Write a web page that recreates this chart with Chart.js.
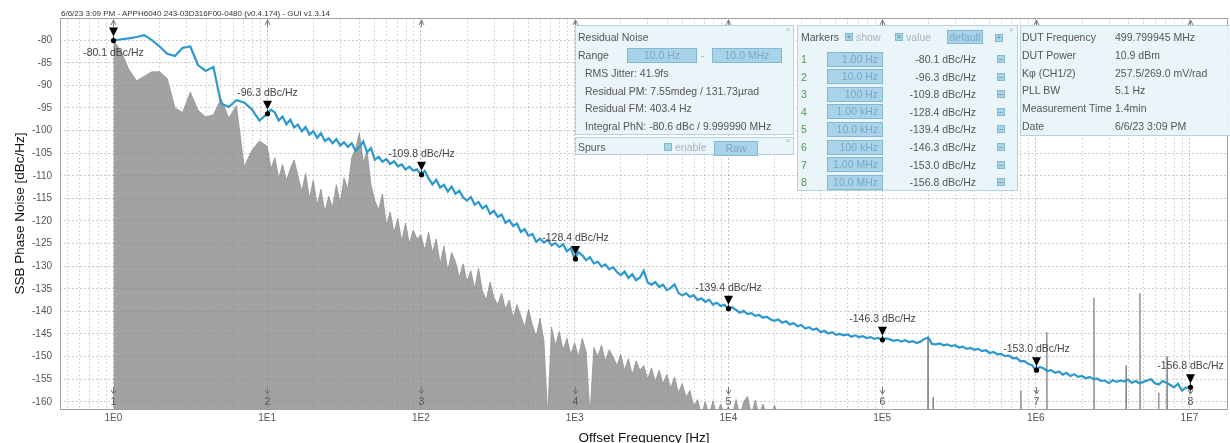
<!DOCTYPE html>
<html>
<head>
<meta charset="utf-8">
<script src="https://cdn.jsdelivr.net/npm/chart.js@4.4.1/dist/chart.umd.min.js"></script>
<style>
    body { margin: 0; background: #fff; font-family: "Liberation Sans", Arial, sans-serif; overflow: hidden; }
    #wrap { position: relative; width: 1230px; height: 443px; overflow: hidden; }
    #chart { position: absolute; left: 0; top: 0; }
    .panel { position: absolute; background: rgba(233, 244, 250, 0.94); border: 1px solid #b7d3e1; box-sizing: border-box; }
    .t { position: absolute; font-size: 10.5px; line-height: 14px; color: #555; white-space: nowrap; }
    .dim { color: #a9b4ba; }
    .num { color: #4c9a4c; }
    .box { position: absolute; background: #a9d3e8; border: 1px solid #86b7d0; box-sizing: border-box; color: #79a9c6;
        font-size: 10.5px; white-space: nowrap; }
    .chk { position: absolute; width: 8px; height: 8px; background: #a9d3e8; border: 1px solid #86b7d0; box-sizing: border-box;
        font-size: 7px; line-height: 6px; text-align: center; color: #4f7f99; }
    .x { position: absolute; font-size: 8px; color: #b5b5b5; }
    #header { position: absolute; left: 61px; top: 9px; font-size: 8px; color: #333; white-space: nowrap; }
</style>
</head>
<body>
<div id="wrap">
    <canvas id="chart" width="1230" height="443"></canvas>
    <div id="header">6/6/23 3:09 PM - APPH6040 243-03D316F00-0480 (v0.4.174) - GUI v1.3.14</div>
</div>
<script>
// axis ranges
const X_MIN = 0.449;
const X_MAX = 1.78e7;
const Y_MIN = -161.6;
const Y_MAX = -75.1;
const Y_TICKS = [-80, -85, -90, -95, -100, -105, -110, -115, -120, -125, -130, -135, -140, -145, -150, -155, -160];
const FLOOR = -163;

// log spacing inside one decade
const MANT20 = [1.0, 1.122, 1.259, 1.413, 1.585, 1.778, 1.995, 2.239, 2.512, 2.818,
    3.162, 3.548, 3.981, 4.467, 5.012, 5.623, 6.310, 7.079, 7.943, 8.913];
const MANT40 = [1.000, 1.059, 1.122, 1.189, 1.259, 1.334, 1.413, 1.496, 1.585, 1.679,
    1.778, 1.884, 1.995, 2.113, 2.239, 2.371, 2.512, 2.661, 2.818, 2.985,
    3.162, 3.350, 3.548, 3.758, 3.981, 4.217, 4.467, 4.732, 5.012, 5.309,
    5.623, 5.957, 6.310, 6.683, 7.079, 7.499, 7.943, 8.414, 8.913, 9.441];

// SSB phase noise trace (blue); 1 Hz decade on MANT20, the rest on MANT40
const BLUE_1HZ = [-80.1, -79.8, -79.6, -79.3, -78.9, -80.0, -81.4, -83.0, -83.5, -81.7,
    -81.4, -85.5, -86.8, -85.9, -94.0, -94.8, -93.3, -93.8, -95.3, -97.8];
const BLUE_10HZ = [-96.3, -95.4, -96.0, -97.8, -96.9, -98.6, -97.6, -99.3, -98.7, -100.2,
    -99.2, -100.9, -100.1, -101.6, -100.6, -102.3, -101.7, -102.8, -101.9, -103.3,
    -102.6, -103.6, -102.8, -104.5, -103.7, -102.4, -104.8, -103.9, -106.5, -105.8,
    -106.9, -106.3, -107.4, -106.8, -107.9, -107.5, -108.6, -108.0, -108.9, -108.6];
const BLUE_100HZ = [-109.8, -108.9, -110.6, -111.9, -110.9, -112.6, -112.0, -113.5, -112.4, -114.0,
    -113.3, -114.8, -115.5, -114.7, -116.4, -115.8, -117.2, -116.6, -118.4, -117.7,
    -119.1, -118.6, -120.4, -119.8, -121.1, -120.6, -122.4, -121.8, -123.3, -122.9,
    -124.6, -123.9, -124.8, -124.2, -125.4, -124.9, -125.8, -125.2, -126.7, -126.0];
const BLUE_1KHZ = [-128.4, -126.9, -127.6, -128.7, -128.0, -129.4, -129.0, -130.1, -129.6, -130.7,
    -130.2, -131.3, -132.0, -131.2, -132.6, -131.8, -133.1, -132.5, -131.0, -133.6,
    -134.1, -133.5, -134.6, -134.1, -135.3, -134.8, -134.0, -135.9, -136.5, -136.0,
    -136.8, -136.4, -137.5, -137.1, -137.9, -137.4, -138.5, -138.1, -138.8, -138.6];
const BLUE_10KHZ = [-139.4, -139.1, -139.7, -140.3, -139.9, -140.6, -140.4, -141.0, -140.8, -141.4,
    -141.2, -141.8, -142.1, -141.8, -142.5, -142.2, -142.9, -142.6, -143.3, -143.0,
    -143.8, -143.5, -144.1, -143.8, -144.6, -144.3, -144.9, -144.6, -145.2, -145.0,
    -145.3, -145.1, -145.6, -145.3, -145.7, -145.5, -145.9, -145.7, -146.1, -145.9];
const BLUE_100KHZ = [-146.3, -146.0, -146.2, -146.5, -146.3, -146.7, -146.4, -146.8, -146.6, -147.0,
    -146.7, -146.1, -145.8, -147.2, -147.3, -147.1, -147.5, -147.3, -147.7, -147.5,
    -148.0, -147.8, -148.3, -148.1, -148.5, -148.3, -148.8, -148.6, -149.2, -149.0,
    -149.5, -149.4, -149.9, -149.8, -150.4, -150.3, -151.0, -151.0, -151.6, -151.9];
const BLUE_1MHZ = [-153.0, -152.3, -152.6, -153.2, -153.0, -153.6, -153.3, -154.0, -153.6, -154.3,
    -153.9, -154.5, -154.3, -154.8, -154.5, -155.0, -154.9, -155.4, -155.3, -155.9,
    -155.2, -155.6, -155.3, -155.5, -155.1, -155.8, -155.4, -155.9, -155.6, -155.3,
    -155.0, -155.9, -156.2, -155.4, -155.8, -156.3, -156.8, -156.0, -157.5, -156.9];
const BLUE_END = -156.8; // at 10 MHz

// gray noise trace
const GRAY_1HZ = [-80.0, -82.5, -86.5, -89.0, -88.0, -87.0, -87.0, -88.5, -95.0, -96.0,
    -91.5, -95.5, -97.0, -96.5, -93.0, -97.2, -94.5, -108.0, -104.4, -102.3];
const GRAY_10HZ = [-103.5, -108.5, -106.0, -110.5, -107.5, -111.0, -108.5, -106.5, -110.0, -113.5,
    -109.5, -115.0, -111.0, -116.5, -113.0, -118.0, -114.5, -117.0, -112.0, -116.0,
    -110.5, -113.0, -106.0, -104.0, -100.5, -107.0, -104.5, -112.0, -115.5, -117.5,
    -114.0, -121.0, -118.0, -122.5, -119.5, -124.5, -120.5, -125.0, -122.0, -124.0];
const GRAY_100HZ = [-123.0, -126.5, -122.5, -127.0, -124.0, -129.5, -125.5, -131.0, -127.0, -129.0,
    -132.5, -129.5, -133.5, -131.0, -135.0, -130.5, -135.5, -137.5, -133.5, -137.0,
    -138.5, -136.0, -139.5, -137.5, -141.5, -138.5, -141.0, -143.5, -139.5, -143.0,
    -145.5, -141.5, -146.5, -163.0, -143.5, -147.5, -144.5, -148.5, -146.0, -149.5];
const GRAY_1KHZ = [-147.0, -150.0, -146.0, -149.0, -163.0, -148.0, -150.0, -147.5, -151.0, -148.5,
    -150.0, -152.0, -149.5, -153.0, -150.5, -154.0, -151.0, -153.0, -152.0, -155.0,
    -152.5, -155.5, -153.0, -156.0, -154.0, -157.0, -154.5, -158.0, -156.0, -159.0,
    -157.5, -161.0, -159.5, -163.0, -160.0, -163.0, -159.8, -163.0, -160.5, -163.0];
const GRAY_10KHZ = [-161.0, -163.0, -159.5, -163.0, -160.0, -158.8, -163.0, -159.6, -163.0, -160.5,
    -163.0, -163.0, -160.8, -163.0, -163.0];

// discrete spurs
const SPUR_FREQ = [1.99e5, 2.15e5, 8.0e5, 1.18e6, 2.39e6, 3.87e6, 4.76e6, 6.3e6, 7.15e6];
const SPUR_DB = [-145.6, -159.0, -157.5, -144.6, -137.0, -152.0, -136.0, -158.0, -150.0];

// markers
const MARKER_FREQ = [1, 10, 100, 1e3, 1e4, 1e5, 1e6, 1e7];
const MARKER_DB = [-80.1, -96.3, -109.8, -128.4, -139.4, -146.3, -153.0, -156.8];
const MARKER_NAMES = ["1.00 Hz", "10.0 Hz", "100 Hz", "1.00 kHz", "10.0 kHz", "100 kHz", "1.00 MHz", "10.0 MHz"];

const DUT_LABELS = ["DUT Frequency", "DUT Power", "K\u03c6 (CH1/2)", "PLL BW", "Measurement Time", "Date"];
const DUT_VALUES = ["499.799945 MHz", "10.9 dBm", "257.5/269.0 mV/rad", "5.1 Hz", "1.4min", "6/6/23 3:09 PM"];

const BLUE = "#2b98d0";

function decadePoints(decade, mant, values) {
    return values.map((v, i) => ({ x: mant[i] * Math.pow(10, decade), y: v }));
}

const blueData = [].concat(
    decadePoints(0, MANT20, BLUE_1HZ), decadePoints(1, MANT40, BLUE_10HZ),
    decadePoints(2, MANT40, BLUE_100HZ), decadePoints(3, MANT40, BLUE_1KHZ),
    decadePoints(4, MANT40, BLUE_10KHZ), decadePoints(5, MANT40, BLUE_100KHZ),
    decadePoints(6, MANT40, BLUE_1MHZ), [{ x: 1e7, y: BLUE_END }]
);
const grayData = [].concat(
    decadePoints(0, MANT20, GRAY_1HZ), decadePoints(1, MANT40, GRAY_10HZ),
    decadePoints(2, MANT40, GRAY_100HZ), decadePoints(3, MANT40, GRAY_1KHZ),
    decadePoints(4, MANT40, GRAY_10KHZ), [{ x: X_MAX, y: FLOOR }]
);
const spurData = [];
SPUR_FREQ.forEach((f, i) => {
    spurData.push({ x: f * 0.996, y: FLOOR }, { x: f, y: SPUR_DB[i] }, { x: f * 1.004, y: FLOOR });
});

// grid positions 1..9 x 10^n
const X_GRID = [];
for (let d = -1; d <= 7; d++) {
    for (let m = 1; m <= 9; m++) {
        const v = m * Math.pow(10, d);
        if (v > X_MIN && v < X_MAX) X_GRID.push(v);
    }
}
const isDecade = v => Math.abs(Math.log10(v) - Math.round(Math.log10(v))) < 1e-6;

// markers, carets and frame
const markerPlugin = {
    id: "markers",
    afterDraw(chart) {
        const { ctx, chartArea: a, scales: { x: xs, y: ys } } = chart;
        ctx.save();
        ctx.strokeStyle = "#a0a0a0";
        ctx.lineWidth = 1;
        ctx.strokeRect(a.left + 0.5, a.top + 0.5, a.right - a.left - 1, a.bottom - a.top);

        MARKER_FREQ.forEach((f, i) => {
            const x = Math.round(xs.getPixelForValue(f)) + 0.5;
            const y = ys.getPixelForValue(MARKER_DB[i]);

            // top caret
            ctx.strokeStyle = "#777";
            ctx.beginPath();
            ctx.moveTo(x - 2.5, a.top + 7); ctx.lineTo(x, a.top + 2); ctx.lineTo(x + 2.5, a.top + 7);
            ctx.moveTo(x, a.top + 2); ctx.lineTo(x, a.top + 9);
            ctx.stroke();
            // bottom caret + index
            ctx.beginPath();
            ctx.moveTo(x, a.bottom - 22); ctx.lineTo(x, a.bottom - 15);
            ctx.moveTo(x - 2.5, a.bottom - 19); ctx.lineTo(x, a.bottom - 15); ctx.lineTo(x + 2.5, a.bottom - 19);
            ctx.stroke();
            ctx.fillStyle = "#555";
            ctx.font = "10.5px 'Liberation Sans', Arial, sans-serif";
            ctx.textAlign = "center";
            ctx.textBaseline = "middle";
            ctx.fillText(String(i + 1), x, a.bottom - 7);

            // marker triangle and dot
            ctx.fillStyle = "#000";
            ctx.strokeStyle = "#000";
            ctx.beginPath();
            ctx.moveTo(x - 4.5, y - 13); ctx.lineTo(x + 4.5, y - 13); ctx.lineTo(x, y - 4);
            ctx.closePath();
            ctx.fill();
            ctx.beginPath(); ctx.moveTo(x, y - 4); ctx.lineTo(x, y); ctx.stroke();
            ctx.beginPath(); ctx.arc(x, y, 2.6, 0, Math.PI * 2); ctx.fill();

            // value label
            ctx.fillStyle = "#444";
            const label = MARKER_DB[i].toFixed(1) + " dBc/Hz";
            const ly = (y - 34 < a.top) ? y + 13 : y - 21;
            ctx.fillText(label, x, ly);
        });
        ctx.restore();
    }
};

const ctx = document.getElementById("chart").getContext("2d");
new Chart(ctx, {
    type: "line",
    data: {
        datasets: [
            {
                label: "SSB Phase Noise",
                data: blueData,
                borderColor: BLUE,
                borderWidth: 2.2,
                fill: false,
                pointRadius: 0,
                tension: 0,
                order: 0
            },
            {
                label: "Noise",
                data: grayData,
                borderColor: "#929292",
                backgroundColor: "#a2a2a2",
                borderWidth: 0.8,
                fill: "start",
                pointRadius: 0,
                tension: 0,
                order: 1
            },
            {
                label: "Spurs",
                data: spurData,
                borderColor: "#8f8f8f",
                backgroundColor: "#9a9a9a",
                borderWidth: 1,
                fill: "start",
                pointRadius: 0,
                tension: 0,
                order: 2
            }
        ]
    },
    options: {
        responsive: false,
        animation: false,
        devicePixelRatio: 1,
        layout: { padding: { top: 18, right: 2, left: 0, bottom: 0 } },
        plugins: { legend: { display: false }, tooltip: { enabled: false } },
        scales: {
            x: {
                type: "logarithmic",
                min: X_MIN,
                max: X_MAX,
                afterFit: s => { s.height = 34; },
                afterBuildTicks: s => { s.ticks = X_GRID.map(v => ({ value: v, major: isDecade(v) })); },
                ticks: {
                    autoSkip: false,
                    maxRotation: 0,
                    padding: 3,
                    color: "#555",
                    font: { size: 10, family: "'Liberation Sans', Arial, sans-serif" },
                    callback: v => (isDecade(v) && v >= 1) ? "1E" + Math.round(Math.log10(v)) : ""
                },
                grid: {
                    drawTicks: false,
                    z: 1,
                    color: c => (c.tick && isDecade(c.tick.value)) ? "rgba(120,120,120,0.45)" : "rgba(140,140,140,0.35)"
                },
                border: { display: false, dash: [2, 2] },
                title: {
                    display: true,
                    text: "Offset Frequency [Hz]",
                    color: "#111",
                    font: { size: 13.5, family: "'Liberation Sans', Arial, sans-serif", lineHeight: 0.77 },
                    padding: { top: 0, bottom: 0 }
                }
            },
            y: {
                min: Y_MIN,
                max: Y_MAX,
                afterFit: s => { s.width = 60; },
                afterBuildTicks: s => { s.ticks = Y_TICKS.map(v => ({ value: v })); },
                ticks: {
                    padding: 8,
                    color: "#555",
                    font: { size: 10, family: "'Liberation Sans', Arial, sans-serif" }
                },
                grid: { drawTicks: false, z: 1, color: "rgba(130,130,130,0.4)" },
                border: { display: false, dash: [2, 2] },
                title: {
                    display: true,
                    text: "SSB Phase Noise [dBc/Hz]",
                    color: "#111",
                    font: { size: 13.5, family: "'Liberation Sans', Arial, sans-serif" },
                    padding: { top: 12, bottom: 0 }
                }
            }
        }
    },
    plugins: [markerPlugin]
});

// overlay panels
const wrap = document.getElementById("wrap");
function el(cls, x, y, w, h, html) {
    const d = document.createElement("div");
    d.className = cls;
    d.style.left = x + "px";
    d.style.top = y + "px";
    if (w != null) d.style.width = w + "px";
    if (h != null) d.style.height = h + "px";
    if (html != null) d.innerHTML = html;
    wrap.appendChild(d);
    return d;
}
function text(x, cy, s, extra) {
    return el("t" + (extra ? " " + extra : ""), x, cy - 7, null, null, s);
}
function box(x, y, w, h, s, align) {
    const d = el("box", x, y, w, h, s);
    d.style.lineHeight = (h - 2) + "px";
    d.style.textAlign = align || "center";
    if (align === "right") d.style.paddingRight = "4px";
    return d;
}

// Residual Noise
el("panel", 575, 25, 219, 110);
el("x", 786, 25, null, null, "\u00d7");
text(578, 37, "Residual Noise");
text(578, 55, "Range");
box(627, 48, 70, 15, "10.0 Hz");
text(701, 55, "-", "dim");
box(712, 48, 70, 15, "10.0 MHz");
text(585, 73, "RMS Jitter: 41.9fs");
text(585, 91, "Residual PM: 7.55mdeg / 131.73\u00b5rad");
text(585, 108, "Residual FM: 403.4 Hz");
text(585, 126, "Integral PhN: -80.6 dBc / 9.999990 MHz");

// Spurs
el("panel", 575, 137, 219, 18);
el("x", 786, 136, null, null, "\u00d7");
text(578, 147, "Spurs");
el("chk", 664, 143, null, null, "");
text(675, 147, "enable", "dim");
box(714, 141, 44, 15, "Raw");

// Markers
el("panel", 797, 25, 221, 166);
el("x", 1009, 25, null, null, "\u00d7");
text(801, 37, "Markers");
el("chk", 845, 33, null, null, "\u00d7");
text(856, 37, "show", "dim");
el("chk", 895, 33, null, null, "\u00d7");
text(906, 37, "value", "dim");
box(947, 30, 36, 14, "default");
el("chk", 995, 34, null, null, "+");
MARKER_NAMES.forEach((name, i) => {
    const cy = 59 + i * 17.6;
    text(801, cy, String(i + 1), "num");
    box(827, Math.round(cy - 7.5), 56, 15, name, "right");
    const v = text(0, cy, MARKER_DB[i].toFixed(1) + " dBc/Hz");
    v.style.left = "auto";
    v.style.right = (1230 - 976) + "px";
    el("chk", 997, Math.round(cy - 4), null, null, "\u2013");
});

// DUT info
el("panel", 1020, 25, 215, 111);
DUT_LABELS.forEach((lab, i) => {
    const cy = 37 + i * 17.8;
    text(1022, cy, lab);
    text(1115, cy, DUT_VALUES[i]);
});
</script>
</body>
</html>
